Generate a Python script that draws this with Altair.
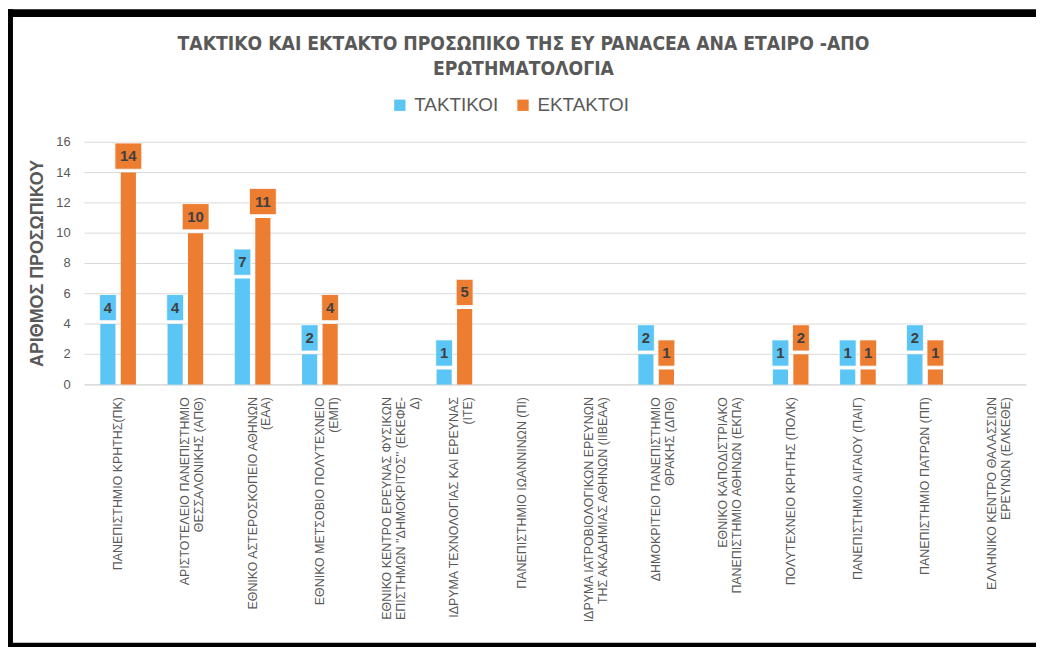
import altair as alt
import pandas as pd

categories = [
    "ΠΑΝΕΠΙΣΤΗΜΙΟ ΚΡΗΤΗΣ(ΠΚ)",
    "ΑΡΙΣΤΟΤΕΛΕΙΟ ΠΑΝΕΠΙΣΤΗΜΙΟ|ΘΕΣΣΑΛΟΝΙΚΗΣ (ΑΠΘ)",
    "ΕΘΝΙΚΟ ΑΣΤΕΡΟΣΚΟΠΕΙΟ ΑΘΗΝΩΝ|(ΕΑΑ)",
    "ΕΘΝΙΚΟ ΜΕΤΣΟΒΙΟ ΠΟΛΥΤΕΧΝΕΙΟ|(ΕΜΠ)",
    "ΕΘΝΙΚΟ ΚΕΝΤΡΟ ΕΡΕΥΝΑΣ ΦΥΣΙΚΩΝ|ΕΠΙΣΤΗΜΩΝ ''ΔΗΜΟΚΡΙΤΟΣ'' (ΕΚΕΦΕ-|Δ)",
    "ΙΔΡΥΜΑ ΤΕΧΝΟΛΟΓΙΑΣ ΚΑΙ ΕΡΕΥΝΑΣ|(ΙΤΕ)",
    "ΠΑΝΕΠΙΣΤΗΜΙΟ ΙΩΑΝΝΙΝΩΝ (ΠΙ)",
    "ΙΔΡΥΜΑ ΙΑΤΡΟΒΙΟΛΟΓΙΚΩΝ ΕΡΕΥΝΩΝ|ΤΗΣ ΑΚΑΔΗΜΙΑΣ ΑΘΗΝΩΝ (ΙΙΒΕΑΑ)",
    "ΔΗΜΟΚΡΙΤΕΙΟ ΠΑΝΕΠΙΣΤΗΜΙΟ|ΘΡΑΚΗΣ (ΔΠΘ)",
    "ΕΘΝΙΚΟ ΚΑΠΟΔΙΣΤΡΙΑΚΟ|ΠΑΝΕΠΙΣΤΗΜΙΟ ΑΘΗΝΩΝ (ΕΚΠΑ)",
    "ΠΟΛΥΤΕΧΝΕΙΟ ΚΡΗΤΗΣ (ΠΟΛΚ)",
    "ΠΑΝΕΠΙΣΤΗΜΙΟ ΑΙΓΑΙΟΥ (ΠΑΙΓ)",
    "ΠΑΝΕΠΙΣΤΗΜΙΟ ΠΑΤΡΩΝ (ΠΠ)",
    "ΕΛΛΗΝΙΚΟ ΚΕΝΤΡΟ ΘΑΛΑΣΣΙΩΝ|ΕΡΕΥΝΩΝ (ΕΛΚΕΘΕ)",
]
taktikoi = [4, 4, 7, 2, 0, 1, 0, 0, 2, 0, 1, 1, 2, 0]
ektaktoi = [14, 10, 11, 4, 0, 5, 0, 0, 1, 0, 2, 1, 1, 0]
series = ["ΤΑΚΤΙΚΟΙ", "ΕΚΤΑΚΤΟΙ"]
colors = ["#5BC5F5", "#ED7D31"]
y_ticks = [0, 2, 4, 6, 8, 10, 12, 14, 16]

title_lines = ["ΤΑΚΤΙΚΟ ΚΑΙ ΕΚΤΑΚΤΟ ΠΡΟΣΩΠΙΚΟ ΤΗΣ ΕΥ PANACEA ΑΝΑ ΕΤΑΙΡΟ -ΑΠΟ",
               "ΕΡΩΤΗΜΑΤΟΛΟΓΙΑ"]
y_title = "ΑΡΙΘΜΟΣ ΠΡΟΣΩΠΙΚΟΥ"

rows = []
for c, a, b in zip(categories, taktikoi, ektaktoi):
    rows.append({"cat": c, "series": series[0], "value": a})
    rows.append({"cat": c, "series": series[1], "value": b})
df = pd.DataFrame(rows)
ticks_df = pd.DataFrame({"t": y_ticks})

GRAY = "#595959"
GRID = "#d9d9d9"
FONT = "Liberation Sans"
NARROW = "Liberation Sans Narrow, DejaVu Sans Condensed, sans-serif"

x_axis = alt.Axis(labelAngle=-90, labelAlign="right", labelBaseline="middle",
                  labelExpr="split(datum.label, '|')", labelLimit=0,
                  labelFontSize=12.5, labelColor=GRAY, labelFont=FONT,
                  labelLineHeight=14, labelPadding=12, ticks=False,
                  domainColor=GRID, grid=False, title=None)
x_scale = alt.Scale(paddingInner=0.47, paddingOuter=0.235)
y_scale = alt.Scale(domain=[0, 16], nice=False)


def xenc():
    return alt.X("cat:N", sort=categories, scale=x_scale, axis=x_axis, title=None)


xo_enc = alt.XOffset("series:N", sort=series,
                     scale=alt.Scale(paddingInner=0.26, paddingOuter=0))
color_scale = alt.Scale(domain=series, range=colors)
color_enc = alt.Color(
    "series:N", sort=series, scale=color_scale,
    legend=alt.Legend(title=None, orient="none", direction="horizontal",
                      legendX=308, legendY=-47, symbolType="square",
                      symbolSize=130, symbolStrokeWidth=0, labelFontSize=19,
                      labelColor=GRAY, labelFont=FONT, columnPadding=15,
                      labelOffset=5),
)

# y axis drawn from the tick list through the shared y scale
grid = alt.Chart(ticks_df).mark_rule(color=GRID, strokeWidth=1).encode(
    y=alt.Y("t:Q", scale=y_scale, axis=None),
    x=alt.value(0), x2=alt.value(948),
)
tick_labels = alt.Chart(ticks_df).mark_text(
    align="right", baseline="middle", fontSize=13, color=GRAY, font=FONT,
).encode(
    y=alt.Y("t:Q", scale=y_scale, axis=None),
    x=alt.value(-14),
    text="t:Q",
)

base = alt.Chart(df)

bars = base.mark_bar().encode(
    x=xenc(), xOffset=xo_enc,
    y=alt.Y("value:Q", scale=y_scale, axis=None),
    color=color_enc,
)

lab = base.transform_filter("datum.value > 0").transform_calculate(
    lo="datum.value + 0.22",
    hi="datum.value + 1.95",
    mid="datum.value + 1.08",
    w="datum.value >= 10 ? 27 : 17",
)

boxes = lab.mark_bar(stroke="white", strokeWidth=0.8).encode(
    x=xenc(),
    xOffset=xo_enc,
    y=alt.Y("lo:Q", scale=y_scale, axis=None),
    y2="hi:Q",
    size=alt.Size("w:Q", scale=None, legend=None),
    color=alt.Color("series:N", sort=series, scale=color_scale, legend=None),
)

texts = lab.mark_text(fontSize=15, fontWeight="bold", color="#404040",
                      font=FONT, baseline="middle").encode(
    x=xenc(),
    xOffset=xo_enc,
    y=alt.Y("mid:Q", scale=y_scale, axis=None),
    text="value:Q",
)

one = pd.DataFrame({"k": [0]})
title_mark = alt.Chart(one).mark_text(
    text=title_lines, fontSize=19.3, fontWeight="bold", color=GRAY, font=NARROW,
    align="center", baseline="top", lineHeight=25,
).encode(x=alt.value(442), y=alt.value(-108))

y_title_mark = alt.Chart(one).mark_text(
    text=y_title, fontSize=18, fontWeight="bold", color=GRAY, font=FONT,
    align="center", baseline="middle", angle=270,
).encode(x=alt.value(-47), y=alt.value(122))

frame_top = alt.Chart(one).mark_rect(color="black").encode(
    x=alt.value(-85), x2=alt.value(960), y=alt.value(-134), y2=alt.value(-126))
frame_left = alt.Chart(one).mark_rect(color="black").encode(
    x=alt.value(-85), x2=alt.value(-72), y=alt.value(-134), y2=alt.value(510))
frame_bottom = alt.Chart(one).mark_rect(color="black").encode(
    x=alt.value(-85), x2=alt.value(960), y=alt.value(504), y2=alt.value(510))

chart = alt.layer(
    grid, bars, boxes, texts, tick_labels, y_title_mark, title_mark,
    frame_top, frame_left, frame_bottom,
).properties(
    width=948, height=244,
    autosize=alt.AutoSizeParams(type="none"),
    padding={"left": 77, "top": 133, "right": 10, "bottom": 262},
    background="white",
).configure_view(strokeWidth=0)

chart.save("out.html", embed_options={"renderer": "svg", "actions": False})
